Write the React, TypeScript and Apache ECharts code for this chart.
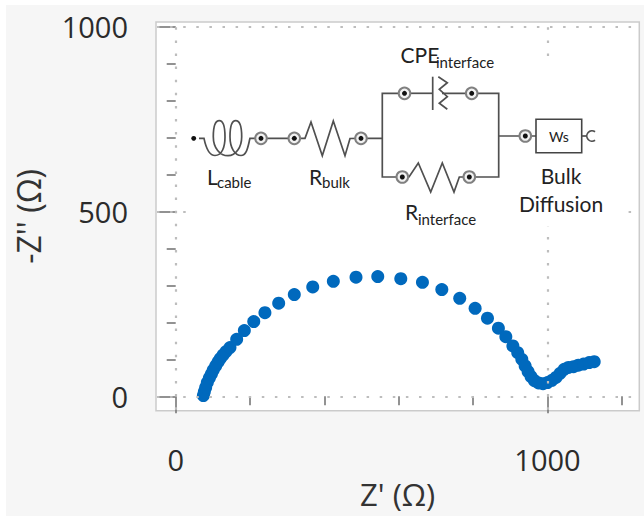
import React, { useEffect, useRef } from "react";
import * as echarts from "echarts";

const zReal = [74.4,77,80.6,85,90.5,96,101,107.5,114,120,127,135.4,146,164,184.6,210,240,277,319,368.6,424,485,543.5,605.5,663.7,715.8,764,805.4,838.6,868,888,907,920,931,940,948,956,965,976,988,1000,1012,1023,1034,1045,1056.6,1070,1083,1097,1112,1125.7];
const zImag = [2,12.5,24,37,49.5,60,71,82,93,102,111,121,131.6,154,177.6,202,226,251.6,275,295.7,311,322,323.6,318,308,288.4,265,238,211,184,161,136,118,100,82,66.6,53,42,36,34,37,43,51,62,73,78,80,84,87,91,93.6];
const xMajorTicks = [0, 1000];
const xMinorTicks = [200, 400, 600, 800, 1200];
const yMajorTicks = [0, 500, 1000];
const yMinorTicks = [100, 200, 300, 400, 600, 700, 800, 900];
const xTitle = "Z' (Ω)";
const yTitle = "-Z'' (Ω)";

const INDUCTOR = "M199 138.3 L204 138.3 C206 148 209 155.5 215 155.5 C222 155.5 225 147 225 137 C225 127 223 120.7 219.3 120.7 C215.5 120.7 213.3 127 213.3 136.7 C213.3 148 220 155.7 228 155.7 C236 155.7 241.7 147 241.7 136.7 C241.7 127 239.5 120.7 235.7 120.7 C232 120.7 230 127 230 136.7 C230 148 235 155.5 241 155.5 C247 155.5 248 146 250 138.3 L255 138.3";
echarts.graphic.registerShape("inductor", echarts.graphic.extendPath(INDUCTOR as any, {}) as any);

const WIRE = "#505050";
const TEXT = "#2b2b2b";
const FONT = "Open Sans";
const DIAGRAM_FONT = "Lato";

const wire = (points: number[][]) => ({
  type: "polyline", z: 11, shape: { points },
  style: { fill: "none", stroke: WIRE, lineWidth: 1.7 },
});
const terminal = (x: number, y: number) => [
  { type: "circle", z: 12, shape: { cx: x, cy: y, r: 5.8 }, style: { fill: "#f2f2f2", stroke: "#808080", lineWidth: 2 } },
  { type: "circle", z: 13, shape: { cx: x, cy: y, r: 2.5 }, style: { fill: "#111" } },
];
const label = (x: number, y: number, text: string, size: number, align = "left") => ({
  type: "text", z: 12, x, y,
  style: { text, fontSize: size, fontFamily: DIAGRAM_FONT, fill: "#222", align, verticalAlign: "middle" },
});

const circuit = [
  { type: "rect", z: 10, shape: { x: 186, y: 65, width: 436, height: 161 }, style: { fill: "#fff" } },
  { type: "circle", z: 12, shape: { cx: 193.7, cy: 138.3, r: 2.4 }, style: { fill: "#111" } },
  { type: "inductor", z: 11, x: 0, y: 0, style: { fill: "none", stroke: WIRE, lineWidth: 1.7 } },
  wire([[261, 138.3], [294.3, 138.3]]),
  wire([[294.3, 138.3], [305, 138.3], [311, 122], [322.3, 155.7], [333.3, 121], [345, 155.7], [350, 138.5], [361, 138.3], [382.3, 138.3]]),
  wire([[405, 93.3], [382.3, 93.3], [382.3, 177], [402.3, 177]]),
  wire([[404.5, 93.3], [432.7, 93.3]]),
  wire([[432.7, 76.7], [432.7, 110]]),
  wire([[438.3, 76.7], [447.3, 82.7], [439.3, 89.3], [447.3, 96.7], [439.3, 103.3], [447.3, 109.3]]),
  wire([[442, 93.3], [471.7, 93.3], [498.7, 93.3], [498.7, 177], [469.3, 177]]),
  wire([[402.3, 177], [409, 177], [418.3, 163], [430.7, 192], [442.3, 163], [454, 192], [459.3, 177], [469.3, 177]]),
  wire([[498.7, 136], [536, 136]]),
  { type: "rect", z: 11, shape: { x: 536, y: 119.3, width: 45.7, height: 33.4 }, style: { fill: "#fff", stroke: "#444", lineWidth: 1.6 } },
  wire([[581.7, 136], [586.7, 136]]),
  { type: "arc", z: 11, shape: { cx: 592, cy: 136, r: 5.2, startAngle: Math.PI * 0.3, endAngle: Math.PI * 1.7 }, style: { fill: "none", stroke: WIRE, lineWidth: 1.7 } },
  ...[[261, 138.3], [294.3, 138.3], [361, 138.3], [404.5, 93.3], [471.7, 93.3], [402.3, 177], [469.3, 177], [525.3, 136]].flatMap(([x, y]) => terminal(x, y)),
  label(207, 176, "L", 21),
  label(217, 182, "cable", 15),
  label(309, 176, "R", 21),
  label(322, 182, "bulk", 15),
  label(400.5, 54, "CPE", 21),
  label(436, 62, "interface", 15),
  label(405, 211, "R", 21),
  label(418, 219, "interface", 15),
  label(559, 136, "Ws", 14, "center"),
  label(561, 175, "Bulk", 21, "center"),
  label(561, 203, "Diffusion", 21, "center"),
];

const X_MIN = -53, X_MAX = 1247, Y_MIN = -39, Y_MAX = 1012;

const tickStyle = { color: "#777", width: 1.6 };
const plainNumber = (v: number) => String(v);

function xAxis(values: number[], length: number, withLabels: boolean) {
  return {
    type: "value", min: X_MIN, max: X_MAX, position: "bottom",
    splitLine: { show: false }, axisLine: { show: false }, minorTick: { show: false },
    axisTick: { show: true, length, customValues: values, lineStyle: tickStyle },
    axisLabel: withLabels
      ? { show: true, customValues: values, formatter: plainNumber, margin: 34, fontSize: 29, fontFamily: FONT, color: TEXT }
      : { show: false },
    ...(withLabels ? { name: xTitle, nameLocation: "middle", nameGap: 64, nameTextStyle: { fontSize: 31, fontFamily: FONT, color: "#333" } } : {}),
  };
}
function yAxis(values: number[], length: number, withLabels: boolean) {
  return {
    type: "value", min: Y_MIN, max: Y_MAX, position: "left",
    splitLine: { show: false }, axisLine: { show: false }, minorTick: { show: false },
    axisTick: { show: true, length, customValues: values, lineStyle: tickStyle },
    axisLabel: withLabels
      ? { show: true, customValues: values, formatter: plainNumber, margin: 28, fontSize: 29, fontFamily: FONT, color: TEXT }
      : { show: false },
    ...(withLabels ? { name: yTitle, nameLocation: "middle", nameRotate: 90, nameGap: 112, nameTextStyle: { fontSize: 32, fontFamily: FONT, color: "#333" } } : {}),
  };
}

export default function App() {
  const ref = useRef<HTMLDivElement>(null);
  useEffect(() => {
    document.body.style.margin = "0";
    document.body.style.background = "#fff";
    const chart = echarts.init(ref.current!, null, { renderer: "svg" });
    const dotted = { color: "#bdbdbd", width: 2.2, type: [2.5, 10.6] as any, dashOffset: -1 };
    chart.setOption({
      animation: false,
      backgroundColor: "transparent",
      textStyle: { fontFamily: FONT },
      grid: {
        left: 156, right: 4.7, top: 22, bottom: 105.3, show: true, outerBoundsMode: "none",
        backgroundColor: "#fff", borderColor: "#cbcbcb", borderWidth: 1.5,
      },
      xAxis: [xAxis(xMajorTicks, 17, true), xAxis(xMinorTicks, 9, false)],
      yAxis: [yAxis(yMajorTicks, 17, true), yAxis(yMinorTicks, 9, false)],
      graphic: { elements: circuit },
      series: [
        {
          type: "line", data: [], xAxisIndex: 0, yAxisIndex: 0, z: 1, silent: true,
          markLine: {
            silent: true, symbol: "none", label: { show: false }, lineStyle: dotted,
            data: [...xMajorTicks.map((xAxis) => ({ xAxis })), ...yMajorTicks.map((yAxis) => ({ yAxis }))],
          },
        },
        {
          type: "scatter", xAxisIndex: 0, yAxisIndex: 0, z: 3, symbol: "circle", symbolSize: 13,
          itemStyle: { color: "#0069bd", opacity: 1 },
          data: zReal.map((x, i) => [x, zImag[i]]),
        },
      ],
    });
    return () => chart.dispose();
  }, []);
  return (
    <div style={{ position: "absolute", left: 0, top: 0, width: 644, height: 516, background: "#fff" }}>
      <div style={{ position: "absolute", left: 6, top: 5, width: 638, height: 511, background: "#f6f6f6" }} />
      <div ref={ref} style={{ position: "absolute", left: 0, top: 0, width: 644, height: 516 }} />
    </div>
  );
}
